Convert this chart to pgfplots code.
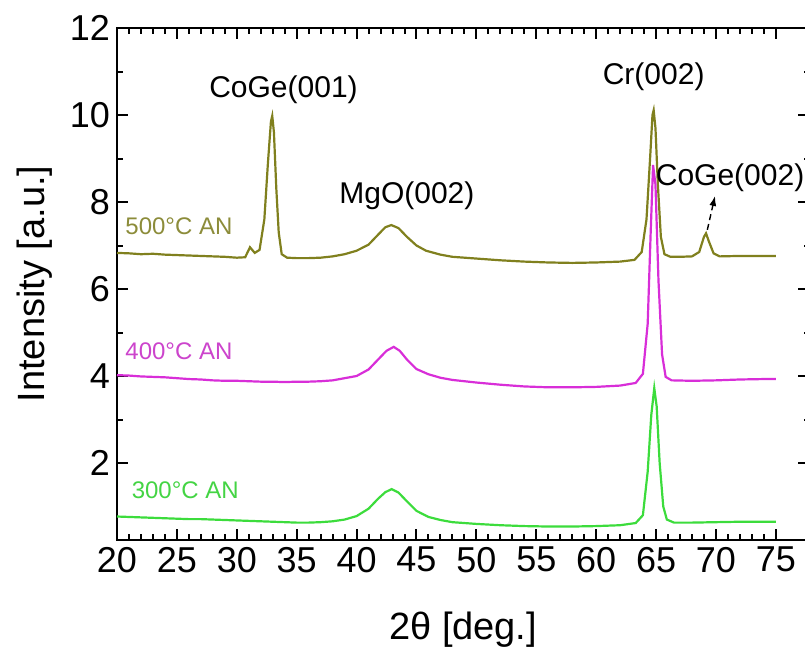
\documentclass[border=0pt]{standalone}
\usepackage{fontspec}
\setmainfont{Liberation Sans}
\usepackage{pgfplots}
\pgfplotsset{compat=1.18}
\usetikzlibrary{arrows.meta}

\definecolor{c500}{HTML}{80801E}
\definecolor{c400}{HTML}{D82ED8}
\definecolor{c300}{HTML}{3CDC3C}
\definecolor{t500}{HTML}{8C8C3A}
\definecolor{t400}{HTML}{CC44CC}
\definecolor{t300}{HTML}{44D444}

\begin{document}
\begin{tikzpicture}
\begin{axis}[
  scale only axis, width=346.2pt, height=256pt,
  xmin=20, xmax=77.8, ymin=0.23, ymax=12,
  xtick={20,25,...,75}, ytick={2,4,...,12},
  minor x tick num=4, minor y tick num=1,
  tick align=inside, major tick length=5.5pt, minor tick length=2.8pt,
  axis line style={line width=1.2pt}, tick style={line width=1pt, black},
  /pgf/number format/assume math mode=true,
  tick label style={font=\fontsize{18}{20}\selectfont},
  label style={font=\fontsize{19}{21}\selectfont},
  xlabel={2θ [deg.]}, ylabel={Intensity [a.u.]},
  xlabel style={yshift=-13pt},
  ylabel style={yshift=2pt},
  every axis plot/.append style={line width=1.1pt, no marks},
  clip=false,
]
\coordinate (sw) at (rel axis cs:0,0);
\coordinate (ne) at (rel axis cs:1,1);

% 500 C annealed
\addplot[c500] coordinates {
(20,6.83) (21,6.82) (22,6.80) (23,6.81) (24,6.79) (25,6.78) (26,6.77) (27,6.76) (28,6.75) (29,6.74)
(30,6.72) (30.7,6.73) (31.1,6.96) (31.5,6.83) (31.9,6.90) (32.3,7.60) (32.6,8.90) (32.85,9.85) (32.96,9.98)
(33.1,9.60) (33.3,8.30) (33.5,7.30) (33.75,6.80) (34.2,6.72) (35,6.71) (36,6.71) (37,6.72) (38,6.75)
(39,6.80) (40,6.88) (41,7.02) (41.8,7.25) (42.4,7.42) (42.9,7.47) (43.5,7.40) (44.2,7.20) (45,7.00)
(45.8,6.88) (47,6.79) (48,6.74) (50,6.70) (52,6.66) (54,6.63) (56,6.61) (58,6.60) (60,6.61) (62,6.63)
(63.2,6.67) (63.8,6.85) (64.2,7.60) (64.5,9.00) (64.7,10.00) (64.8,10.11) (64.95,9.70) (65.15,8.40)
(65.4,7.20) (65.7,6.80) (66.2,6.74) (67,6.74) (68,6.75) (68.6,6.85) (69.0,7.20) (69.17,7.28) (69.4,7.10)
(69.8,6.82) (70.3,6.75) (72,6.76) (74,6.76) (75,6.76)
};
% 400 C annealed
\addplot[c400] coordinates {
(20,4.02) (21,4.01) (22,3.99) (23,3.98) (24,3.97) (25,3.95) (26,3.93) (27,3.92) (28,3.90) (29,3.89)
(30,3.89) (31,3.88) (32,3.87) (33,3.87) (34,3.86) (35,3.87) (36,3.87) (37,3.88) (38,3.90) (39,3.95)
(40,4.00) (41,4.15) (41.8,4.38) (42.5,4.58) (43.1,4.67) (43.6,4.58) (44.2,4.38) (45,4.16) (46,4.04)
(47,3.96) (48,3.91) (50,3.85) (52,3.80) (54,3.76) (56,3.74) (58,3.74) (60,3.75) (62,3.78) (63.3,3.84)
(63.9,4.05) (64.3,5.20) (64.55,7.30) (64.75,8.85) (64.95,8.40) (65.2,6.20) (65.5,4.50) (65.8,3.98)
(66.3,3.90) (68,3.89) (70,3.90) (72,3.92) (74,3.93) (75,3.93)
};
% 300 C annealed
\addplot[c300] coordinates {
(20,0.77) (21,0.76) (22,0.75) (23,0.74) (24,0.73) (25,0.72) (26,0.71) (27,0.71) (28,0.70) (29,0.69)
(30,0.68) (31,0.67) (32,0.66) (33,0.65) (34,0.64) (35,0.63) (36,0.63) (37,0.64) (38,0.66) (39,0.70)
(40,0.78) (41,0.95) (41.8,1.18) (42.4,1.33) (42.93,1.40) (43.5,1.32) (44.2,1.12) (45,0.90) (46,0.76)
(47,0.69) (48,0.64) (50,0.60) (52,0.57) (54,0.55) (56,0.54) (58,0.54) (60,0.55) (62,0.57) (63.3,0.62)
(63.9,0.80) (64.3,1.80) (64.6,3.10) (64.85,3.72) (65.05,3.30) (65.3,2.00) (65.6,1.00) (65.9,0.70)
(66.5,0.63) (68,0.63) (70,0.64) (72,0.65) (74,0.65) (75,0.65)
};

\node[font=\fontsize{15}{17}\selectfont] at (axis cs:33.9,10.57) {CoGe(001)};
\node[font=\fontsize{15}{17}\selectfont] at (axis cs:44.2,8.14) {MgO(002)};
\node[font=\fontsize{15}{17}\selectfont] at (axis cs:64.8,10.87) {Cr(002)};
\node[font=\fontsize{15}{17}\selectfont, anchor=west, inner sep=0pt] at (axis cs:64.95,8.55) {CoGe(002)};
\draw[-{Latex[length=5pt,width=3.5pt]}, densely dashed, line width=0.7pt] (axis cs:69.28,7.36) -- (axis cs:69.92,8.14);

\node[font=\fontsize{12}{14}\selectfont, text=t500, anchor=west, inner sep=0pt] at (axis cs:20.67,7.45) {500°C AN};
\node[font=\fontsize{12}{14}\selectfont, text=t400, anchor=west, inner sep=0pt] at (axis cs:20.67,4.56) {400°C AN};
\node[font=\fontsize{12}{14}\selectfont, text=t300, anchor=west, inner sep=0pt] at (axis cs:21.2,1.38) {300°C AN};
\end{axis}
\pgfresetboundingbox
\path[use as bounding box] ([shift={(-58.5pt,-56.5pt)}]sw) rectangle ([shift={(-2.2pt,14pt)}]ne);
\end{tikzpicture}
\end{document}
